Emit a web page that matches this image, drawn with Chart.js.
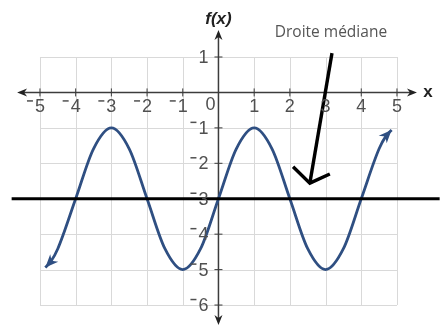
<!DOCTYPE html>
<html>
<head>
<meta charset="utf-8">
<script src="https://cdn.jsdelivr.net/npm/chart.js@4.4.1/dist/chart.umd.min.js"></script>
<style>
  html, body { margin: 0; padding: 0; background: #fff; }
  #chart { display: block; }
</style>
</head>
<body>
<canvas id="chart" width="441" height="333"></canvas>
<script>
// -------------------------
// Data
// -------------------------
const curveX = [-4.85, -4.7, -4.5, -4, -3.5, -3, -2.5, -2, -1.5, -1, -0.5, 0, 0.5, 1, 1.5, 2, 2.5, 3, 3.5, 4, 4.5, 4.7, 4.85];
const curveY = [-4.94, -4.78, -4.41, -3, -1.59, -1, -1.59, -3, -4.41, -5, -4.41, -3, -1.59, -1, -1.59, -3, -4.41, -5, -4.41, -3, -1.59, -1.22, -1.06];

const midlineY = -3;

const xTicks = [-5, -4, -3, -2, -1, 0, 1, 2, 3, 4, 5];
const yTicks = [1, -1, -2, -3, -4, -5, -6];

// pointer for the label
const pointerShaft = [[3.18, 1.11], [2.56, -2.56]];
const pointerHead = [[2.09, -2.1], [2.56, -2.56], [3.12, -2.3]];
const pointerText = "Droite médiane";
const pointerTextAt = [3.15, 1.7];

// -------------------------
// View window
// -------------------------
const X_MIN = -5.8, X_MAX = 6.2;
const Y_MIN = -6.6, Y_MAX = 1.9;
const AXIS_X = [-5.64, 5.56];
const AXIS_Y = [-6.56, 1.76];

const CURVE_COLOR = "#2f4f82";
const GRID_COLOR = "#d9d9d9";
const AXIS_COLOR = "#3c3c3c";
const LABEL_COLOR = "#505050";

const toPts = (xs, ys) => xs.map((x, i) => ({ x, y: ys[i] }));
const pairs = arr => arr.map(p => ({ x: p[0], y: p[1] }));

function arrowHead(ctx, x, y, ang, len, half, color) {
  ctx.save();
  ctx.translate(x, y);
  ctx.rotate(ang);
  ctx.fillStyle = color;
  ctx.beginPath();
  ctx.moveTo(0, 0);
  ctx.lineTo(-len, -half);
  ctx.lineTo(-len * 0.7, 0);
  ctx.lineTo(-len, half);
  ctx.closePath();
  ctx.fill();
  ctx.restore();
}

// label with a small raised minus
function numLabel(ctx, v, x, y, align) {
  const s = String(Math.abs(v));
  const w = ctx.measureText(s).width;
  let left = align === "right" ? x - w : x - w / 2;
  ctx.textAlign = "left";
  ctx.fillText(s, left, y);
  if (v < 0) {
    ctx.beginPath();
    ctx.moveTo(left - 8, y - 6.5);
    ctx.lineTo(left - 2, y - 6.5);
    ctx.stroke();
  }
}

// -------------------------
// Grid + axes plugin
// -------------------------
const axesPlugin = {
  id: "axesPlugin",
  beforeDatasetsDraw(chart) {
    const { ctx, scales: { x, y } } = chart;
    const px = v => x.getPixelForValue(v);
    const py = v => y.getPixelForValue(v);

    ctx.save();
    ctx.strokeStyle = GRID_COLOR;
    ctx.lineWidth = 1;
    xTicks.forEach(t => {
      ctx.beginPath();
      ctx.moveTo(Math.round(px(t)) + 0.5, py(1));
      ctx.lineTo(Math.round(px(t)) + 0.5, py(-6));
      ctx.stroke();
    });
    for (let t = 1; t >= -6; t--) {
      ctx.beginPath();
      ctx.moveTo(px(-5), Math.round(py(t)) + 0.5);
      ctx.lineTo(px(5), Math.round(py(t)) + 0.5);
      ctx.stroke();
    }

    // axes
    ctx.strokeStyle = AXIS_COLOR;
    ctx.lineWidth = 1.5;
    const ox = px(0), oy = py(0);
    ctx.beginPath();
    ctx.moveTo(px(AXIS_X[0]) + 6, oy);
    ctx.lineTo(px(AXIS_X[1]) - 6, oy);
    ctx.moveTo(ox, py(AXIS_Y[1]) + 6);
    ctx.lineTo(ox, py(AXIS_Y[0]) - 6);
    ctx.stroke();
    arrowHead(ctx, px(AXIS_X[0]), oy, Math.PI, 10, 4, "#222");
    arrowHead(ctx, px(AXIS_X[1]), oy, 0, 10, 4, "#222");
    arrowHead(ctx, ox, py(AXIS_Y[1]), -Math.PI / 2, 10, 4, "#222");
    arrowHead(ctx, ox, py(AXIS_Y[0]), Math.PI / 2, 10, 4, "#222");

    // tick marks
    ctx.lineWidth = 1;
    xTicks.forEach(t => {
      if (t === 0) return;
      ctx.beginPath();
      ctx.moveTo(px(t), oy - 4);
      ctx.lineTo(px(t), oy + 4);
      ctx.stroke();
    });
    yTicks.forEach(t => {
      ctx.beginPath();
      ctx.moveTo(ox - 4, py(t));
      ctx.lineTo(ox + 4, py(t));
      ctx.stroke();
    });
    ctx.restore();
  },
  afterDraw(chart) {
    const { ctx, scales: { x, y } } = chart;
    const px = v => x.getPixelForValue(v);
    const py = v => y.getPixelForValue(v);
    const ox = px(0), oy = py(0);

    ctx.save();
    ctx.fillStyle = LABEL_COLOR;
    ctx.strokeStyle = LABEL_COLOR;
    ctx.lineWidth = 1.5;
    ctx.font = "18px 'Liberation Sans'";
    ctx.textBaseline = "middle";
    xTicks.forEach(t => {
      if (t === 0) numLabel(ctx, 0, ox - 8, oy + 13, "center");
      else numLabel(ctx, t, px(t), oy + 15, "center");
    });
    yTicks.forEach(t => numLabel(ctx, t, ox - 10, py(t) + 1, "right"));

    // axis titles
    ctx.fillStyle = "#222";
    ctx.textAlign = "center";
    ctx.font = "italic bold 17px 'Liberation Sans'";
    ctx.fillText("f(x)", ox, 19);
    ctx.font = "bold 17px 'Liberation Sans'";
    ctx.fillText("x", px(AXIS_X[1]) + 11, oy);

    // pointer text
    ctx.fillStyle = "#555";
    ctx.font = "15.5px 'Open Sans'";
    ctx.fillText(pointerText, px(pointerTextAt[0]), py(pointerTextAt[1]));

    // curve end arrows
    const meta = chart.getDatasetMeta(0).data;
    const n = meta.length;
    const a0 = Math.atan2(meta[0].y - meta[1].y, meta[0].x - meta[1].x);
    const a1 = Math.atan2(meta[n - 1].y - meta[n - 2].y, meta[n - 1].x - meta[n - 2].x);
    arrowHead(ctx, meta[0].x, meta[0].y, a0, 13, 5.5, CURVE_COLOR);
    arrowHead(ctx, meta[n - 1].x, meta[n - 1].y, a1, 13, 5.5, CURVE_COLOR);
    ctx.restore();
  }
};

// -------------------------
// Chart
// -------------------------
new Chart(document.getElementById("chart"), {
  type: "scatter",
  data: {
    datasets: [
      {
        data: toPts(curveX, curveY),
        showLine: true,
        borderColor: CURVE_COLOR,
        borderWidth: 2.8,
        pointRadius: 0,
        cubicInterpolationMode: "monotone",
        order: 3
      },
      {
        data: [{ x: X_MIN, y: midlineY }, { x: X_MAX, y: midlineY }],
        showLine: true,
        borderColor: "#000",
        borderWidth: 3.2,
        pointRadius: 0,
        order: 1
      },
      {
        data: pairs(pointerShaft),
        showLine: true,
        borderColor: "#000",
        borderWidth: 3.4,
        pointRadius: 0,
        order: 2
      },
      {
        data: pairs(pointerHead),
        showLine: true,
        borderColor: "#000",
        borderWidth: 3.4,
        borderJoinStyle: "miter",
        pointRadius: 0,
        order: 2
      }
    ]
  },
  options: {
    responsive: false,
    animation: false,
    devicePixelRatio: 1,
    layout: { padding: { left: 11.4, right: 1.2, top: 25.1, bottom: 6.7 } },
    plugins: { legend: { display: false }, tooltip: { enabled: false } },
    scales: {
      x: { type: "linear", min: X_MIN, max: X_MAX, display: false },
      y: { type: "linear", min: Y_MIN, max: Y_MAX, display: false }
    }
  },
  plugins: [axesPlugin]
});
</script>
</body>
</html>
